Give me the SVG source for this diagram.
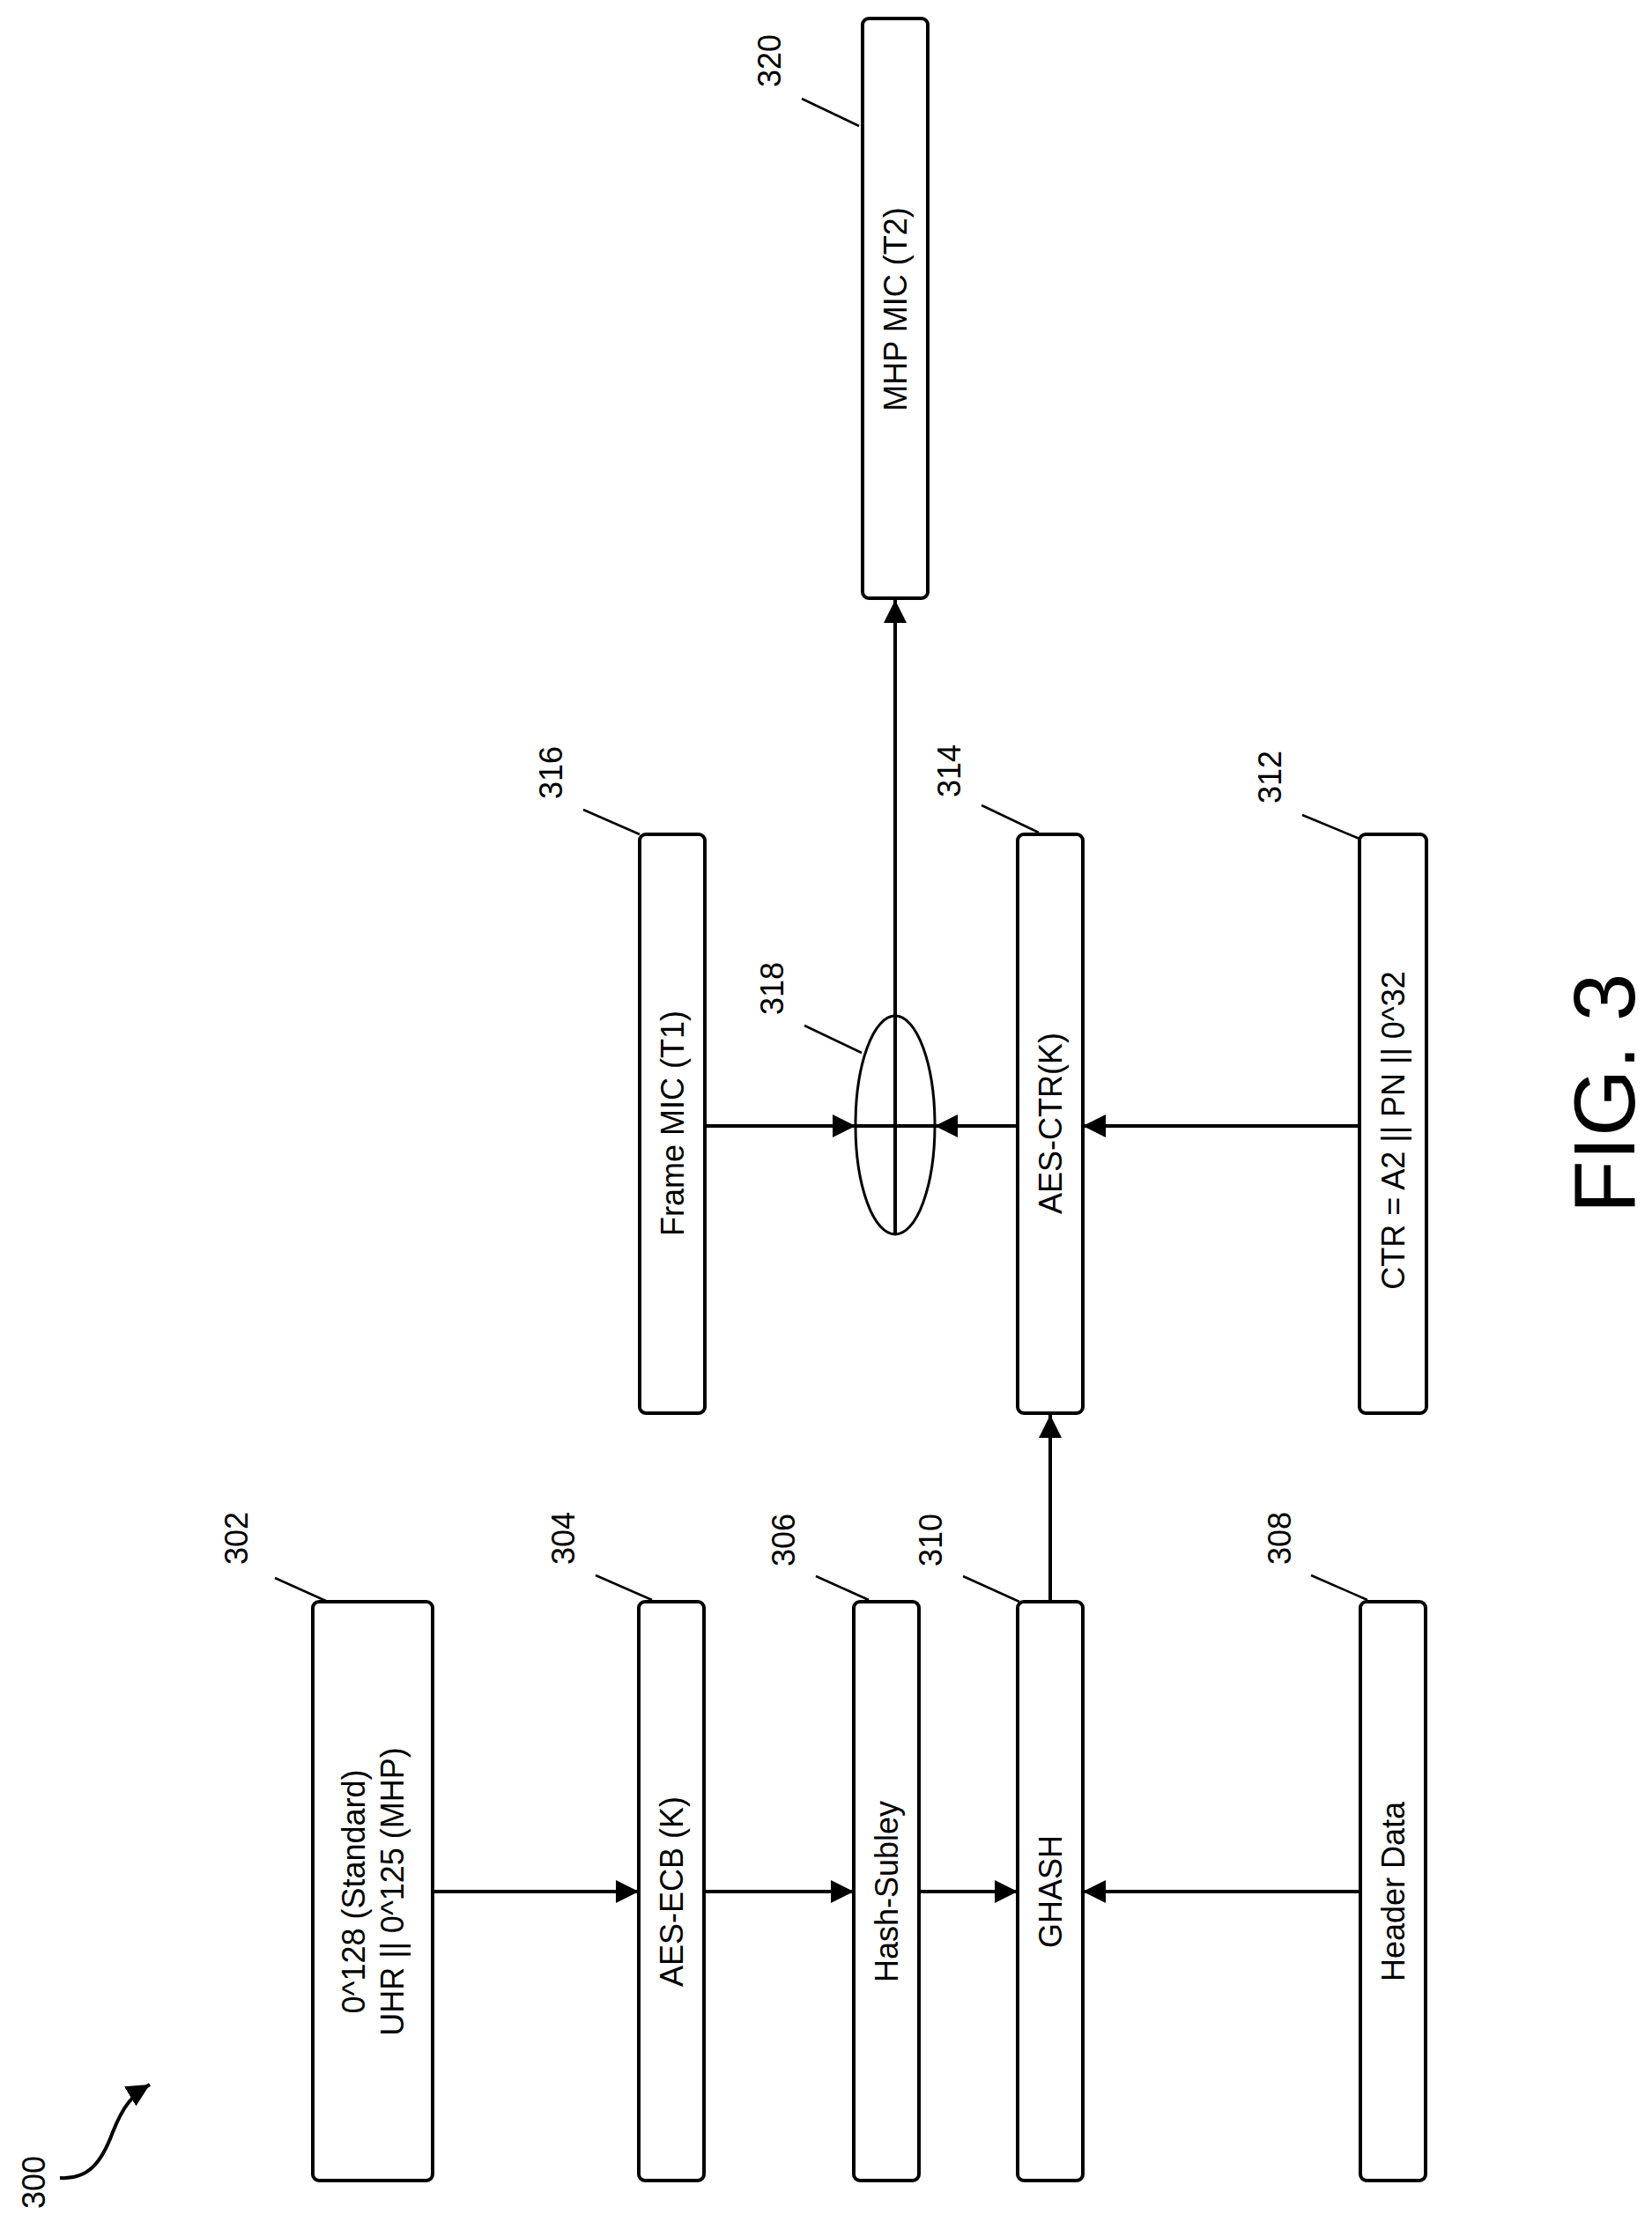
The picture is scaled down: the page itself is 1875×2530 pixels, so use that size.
<svg xmlns="http://www.w3.org/2000/svg" width="1875" height="2530" viewBox="0 0 1875 2530">
<style>
.box{fill:#fff;stroke:#000;stroke-width:4}
.t{font-family:"Liberation Sans",Arial,sans-serif;font-size:36px;fill:#000;text-anchor:middle;dominant-baseline:central}
.c{stroke:#000;stroke-width:4;fill:none}
.ld{stroke:#000;stroke-width:2.5;fill:none}
</style>
<defs>
<marker id="ah" markerUnits="userSpaceOnUse" markerWidth="30" markerHeight="30" refX="26" refY="13" orient="auto">
<path d="M0,0 L26,13 L0,26 Z" fill="#000"/>
</marker>
</defs>
<rect width="1875" height="2530" fill="#fff"/>
<g id="n302"><rect class="box" x="355" y="1818" width="136" height="657" rx="7"/>
<text class="t" transform="translate(423,2147) rotate(-90)"><tspan x="0" y="-22">0^128 (Standard)</tspan><tspan x="0" y="22">UHR || 0^125 (MHP)</tspan></text>
<text class="t" transform="translate(268,1746) rotate(-90)">302</text><line class="ld" x1="312" y1="1791" x2="372" y2="1818"/></g>
<g id="n304"><rect class="box" x="725" y="1818" width="74" height="657" rx="7"/>
<text class="t" transform="translate(762,2147) rotate(-90)">AES-ECB (K)</text>
<text class="t" transform="translate(639,1746) rotate(-90)">304</text><line class="ld" x1="676" y1="1788" x2="740" y2="1816"/></g>
<g id="n306"><rect class="box" x="969" y="1818" width="74" height="657" rx="7"/>
<text class="t" transform="translate(1006,2147) rotate(-90)">Hash-Subley</text>
<text class="t" transform="translate(889,1748) rotate(-90)">306</text><line class="ld" x1="926" y1="1789" x2="986" y2="1816"/></g>
<g id="n310"><rect class="box" x="1155" y="1818" width="74" height="657" rx="7"/>
<text class="t" transform="translate(1192,2147) rotate(-90)">GHASH</text>
<text class="t" transform="translate(1056,1748) rotate(-90)">310</text><line class="ld" x1="1093" y1="1789" x2="1157" y2="1818"/></g>
<g id="n308"><rect class="box" x="1544" y="1818" width="74" height="657" rx="7"/>
<text class="t" transform="translate(1581,2147) rotate(-90)">Header Data</text>
<text class="t" transform="translate(1452,1746) rotate(-90)">308</text><line class="ld" x1="1488" y1="1788" x2="1552" y2="1816"/></g>
<g id="n316"><rect class="box" x="726" y="947" width="74" height="657" rx="7"/>
<text class="t" transform="translate(763,1275) rotate(-90)">Frame MIC (T1)</text>
<text class="t" transform="translate(625,877) rotate(-90)">316</text><line class="ld" x1="662" y1="919" x2="726" y2="947"/></g>
<g id="n314"><rect class="box" x="1155" y="947" width="74" height="657" rx="7"/>
<text class="t" transform="translate(1192,1275) rotate(-90)">AES-CTR(K)</text>
<text class="t" transform="translate(1077,875) rotate(-90)">314</text><line class="ld" x1="1114" y1="914" x2="1179" y2="945"/></g>
<g id="n312"><rect class="box" x="1543" y="947" width="76" height="657" rx="7"/>
<text class="t" transform="translate(1581,1283) rotate(-90)">CTR = A2 || PN || 0^32</text>
<text class="t" transform="translate(1441,882) rotate(-90)">312</text><line class="ld" x1="1478" y1="925" x2="1543" y2="952"/></g>
<g id="n320"><rect class="box" x="979" y="21" width="74" height="658" rx="7"/>
<text class="t" transform="translate(1016,351) rotate(-90)">MHP MIC (T2)</text>
<text class="t" transform="translate(873,69) rotate(-90)">320</text><line class="ld" x1="910" y1="112" x2="975" y2="143"/></g>
<g id="n318"><ellipse cx="1016" cy="1277" rx="45" ry="124" fill="none" stroke="#000" stroke-width="3"/>
<text class="t" transform="translate(876,1122) rotate(-90)">318</text><line class="ld" x1="913" y1="1164" x2="978" y2="1195"/></g>
<g id="connectors">
<line class="c" x1="491" y1="2147" x2="725" y2="2147" marker-end="url(#ah)"/>
<line class="c" x1="799" y1="2147" x2="969" y2="2147" marker-end="url(#ah)"/>
<line class="c" x1="1043" y1="2147" x2="1155" y2="2147" marker-end="url(#ah)"/>
<line class="c" x1="1544" y1="2147" x2="1229" y2="2147" marker-end="url(#ah)"/>
<line class="c" x1="1192" y1="1818" x2="1192" y2="1606" marker-end="url(#ah)"/>
<line class="c" x1="1543" y1="1278" x2="1229" y2="1278" marker-end="url(#ah)"/>
<line class="c" x1="1155" y1="1278" x2="1061" y2="1278" marker-end="url(#ah)"/>
<line class="c" x1="800" y1="1278" x2="971" y2="1278" marker-end="url(#ah)"/>
<line class="c" x1="971" y1="1278" x2="1061" y2="1278"/>
<line class="c" x1="1016" y1="1400" x2="1016" y2="681" marker-end="url(#ah)"/>
<path class="c" d="M68,2472 C100,2474 115,2455 128,2420 C140,2390 150,2378 170,2366" marker-end="url(#ah)"/>
</g>
<text class="t" transform="translate(38,2477) rotate(-90)">300</text>
<text transform="translate(1855,1241) rotate(-90)" font-family="Liberation Sans,Arial,sans-serif" font-size="98" text-anchor="middle">FIG. 3</text>
</svg>
